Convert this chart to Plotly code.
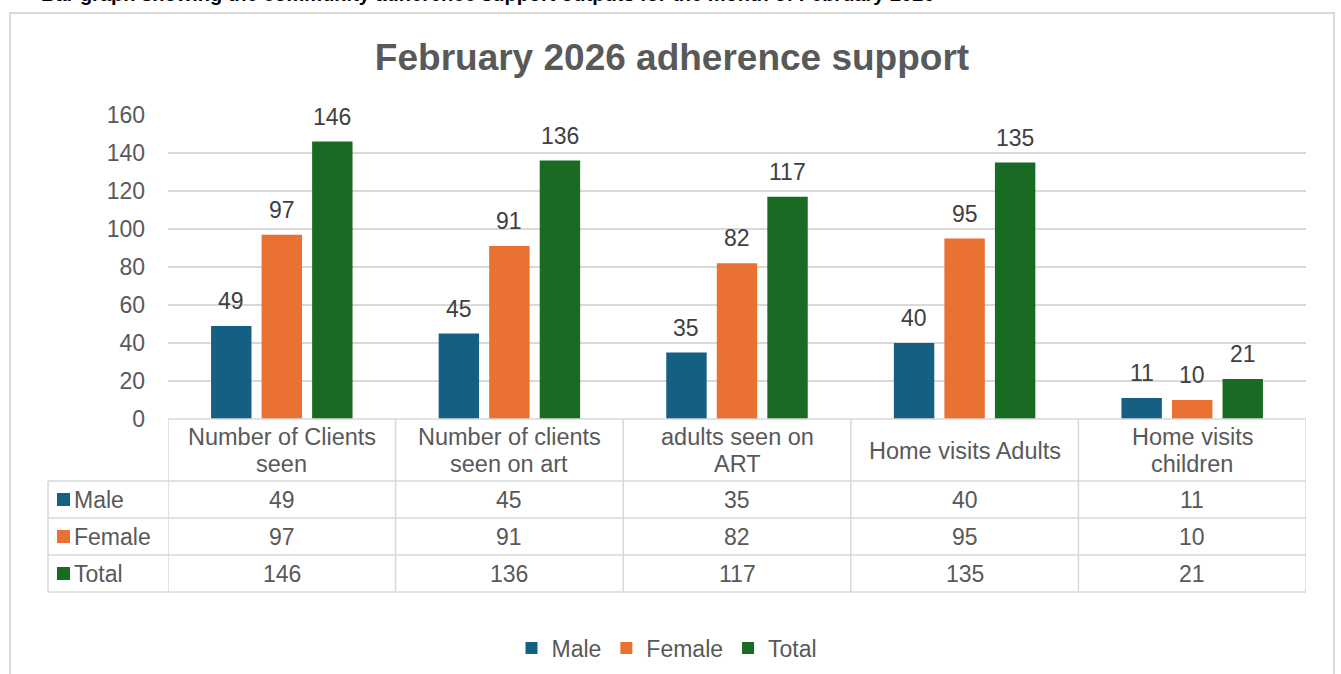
import plotly.graph_objects as go

# ---------------- data ----------------
categories = ["Number of Clients seen", "Number of clients seen on art",
              "adults seen on ART", "Home visits Adults", "Home visits children"]
category_label_lines = [["Number of Clients", "seen"], ["Number of clients", "seen on art"],
                        ["adults seen on", "ART"], ["Home visits Adults"], ["Home visits", "children"]]
series_names = ["Male", "Female", "Total"]
male = [49, 45, 35, 40, 11]
female = [97, 91, 82, 95, 10]
total = [146, 136, 117, 135, 21]
y_ticks = [0, 20, 40, 60, 80, 100, 120, 140, 160]
chart_title = "February 2026 adherence support"
caption = "Bar graph showing the community adherence support outputs for the month of February 2026"

series_values = [male, female, total]
colors = ["#156082", "#E97132", "#196B24"]

# ---------------- geometry helpers (pixel -> paper) ----------------
W, H = 1341, 674
L, R, T, B = 168, 1306, 115, 419


def px(x):
    return (x - L) / (R - L)


def py(y):
    return (B - y) / (B - T)


FONT = "Liberation Sans, Arial, sans-serif"
TXT = "#595959"
GRID = "#D9D9D9"
FS = 23

fig = go.Figure()
for name, vals, col in zip(series_names, series_values, colors):
    fig.add_trace(go.Bar(name=name, x=categories, y=vals, marker=dict(color=col, line=dict(width=0)),
                         hoverinfo="x+y+name"))

annotations = []
shapes = []

# data labels above bars
slot = (R - L) / len(categories) * (1 - 0.334) / 3
for si, vals in enumerate(series_values):
    for c, v in zip(categories, vals):
        annotations.append(dict(x=c, y=v, xref="x", yref="y", text=str(v), showarrow=False,
                                xshift=(si - 1) * slot, yshift=25, yanchor="middle",
                                font=dict(family=FONT, size=FS, color="#404040")))

# data table
row_y = [(481, 518), (518, 555), (555, 592)]
shapes.append(dict(type="line", xref="paper", yref="paper", x0=px(L), x1=px(R), y0=py(419), y1=py(419),
                   line=dict(color=GRID, width=1.5)))
for y in [481, 518, 555, 592]:
    shapes.append(dict(type="line", xref="paper", yref="paper", x0=px(48), x1=px(R), y0=py(y), y1=py(y),
                       line=dict(color=GRID, width=1.5)))
shapes.append(dict(type="line", xref="paper", yref="paper", x0=px(48), x1=px(48), y0=py(481), y1=py(592),
                   line=dict(color=GRID, width=1.5)))
for k in range(len(categories) + 1):
    shapes.append(dict(type="line", xref="x", yref="paper", x0=k - 0.5, x1=k - 0.5, y0=py(419), y1=py(592),
                       line=dict(color=GRID, width=1.5)))
# header row: category names (one annotation per text line, 27 px apart)
for c, lines in zip(categories, category_label_lines):
    n = len(lines)
    for j, line in enumerate(lines):
        yc = 450.5 + (j - (n - 1) / 2) * 27
        annotations.append(dict(x=c, y=py(yc), xref="x", yref="paper", text=line, showarrow=False,
                                yanchor="middle", font=dict(family=FONT, size=23.5, color=TXT)))
for si, (name, vals, col) in enumerate(zip(series_names, series_values, colors)):
    y0, y1 = row_y[si]
    yc = (y0 + y1) / 2
    shapes.append(dict(type="rect", xref="paper", yref="paper", x0=px(57), x1=px(70),
                       y0=py(yc - 6.5), y1=py(yc + 6.5), fillcolor=col, line=dict(width=0)))
    annotations.append(dict(x=px(72), y=py(yc), xref="paper", yref="paper", text=name, showarrow=False,
                            xanchor="left", yanchor="middle", font=dict(family=FONT, size=FS, color=TXT)))
    for c, v in zip(categories, vals):
        annotations.append(dict(x=c, y=py(yc), xref="x", yref="paper", text=str(v), showarrow=False,
                                yanchor="middle", font=dict(family=FONT, size=FS, color=TXT)))

# outer chart border
shapes.append(dict(type="rect", xref="paper", yref="paper", x0=px(10), x1=px(1334), y0=py(700), y1=py(13),
                   line=dict(color=GRID, width=2), fillcolor="rgba(0,0,0,0)", layer="below"))

# caption at the very top, cut by the page edge as in the source picture
annotations.append(dict(x=px(40), y=py(6), xref="paper", yref="paper", text="<b>" + caption + "</b>",
                        showarrow=False, xanchor="left", yanchor="bottom", borderpad=0,
                        font=dict(family=FONT, size=20, color="#000000")))

fig.update_layout(
    width=W, height=H,
    margin=dict(l=L, r=W - R, t=T, b=H - B, pad=0, autoexpand=False),
    paper_bgcolor="white", plot_bgcolor="white",
    barmode="group", bargap=0.334, bargroupgap=0.2,
    title=dict(text="<b>" + chart_title + "</b>", x=px(672), xref="paper", xanchor="center",
               y=1 - 57 / H, yref="container", yanchor="middle",
               font=dict(family=FONT, size=37, color=TXT)),
    xaxis=dict(type="category", range=[-0.5, len(categories) - 0.5], showticklabels=False,
               showgrid=False, showline=False, zeroline=False, ticks=""),
    yaxis=dict(range=[0, 160], tickvals=y_ticks, showgrid=True, gridcolor=GRID, gridwidth=1.5,
               showline=False, zeroline=False, ticks="", ticklabelstandoff=22,
               tickfont=dict(family=FONT, size=FS, color=TXT)),
    showlegend=True,
    legend=dict(orientation="h", x=px(667), xanchor="center", xref="paper", y=py(648), yanchor="middle",
                yref="paper", font=dict(family=FONT, size=FS, color=TXT), bgcolor="rgba(0,0,0,0)"),
    annotations=annotations,
    shapes=shapes,
)

fig.write_html(
    "out.html",
    config={"displayModeBar": False},
    post_script=("document.documentElement.style.margin='0';document.body.style.margin='0';"
                 "document.documentElement.style.overflow='hidden';document.body.style.overflow='hidden';"),
)
